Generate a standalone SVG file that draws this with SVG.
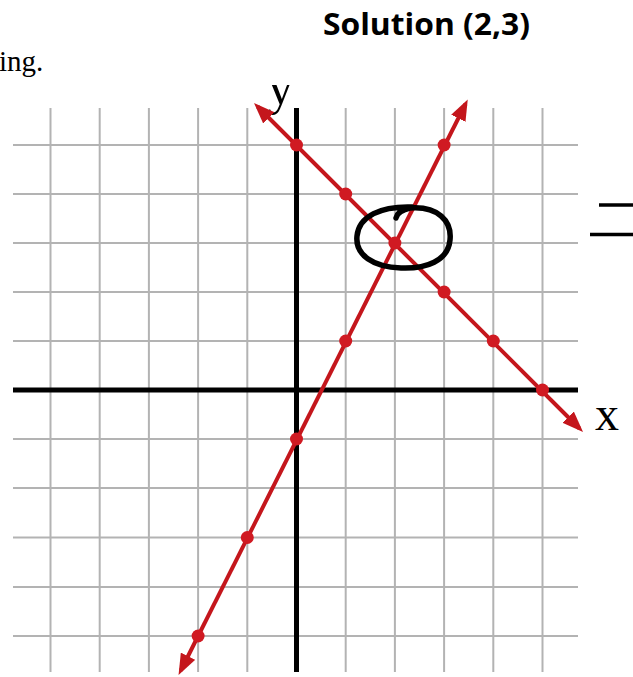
<svg xmlns="http://www.w3.org/2000/svg" width="633" height="677" viewBox="0 0 633 677">
<defs>
<style>
.grid line{stroke:#b3b3b3;stroke-width:2}
.axis{stroke:#000;stroke-width:5}
.red{stroke:#c4161c;stroke-width:4;fill:none}
.dot{fill:#d01a22}
.serif{font-family:"Liberation Serif","Times New Roman",serif;fill:#000}
</style>
<marker id="ah" viewBox="0 0 21 16" refX="16" refY="8" markerWidth="21" markerHeight="16" markerUnits="userSpaceOnUse" orient="auto-start-reverse">
<path d="M0,0 L21,8 L0,16 z" fill="#c4161c"/>
</marker>
<clipPath id="clipY"><rect x="0" y="85" width="633" height="600"/></clipPath>
</defs>
<rect width="633" height="677" fill="#fff"/>
<text id="title" x="323" y="35" font-family="'Open Sans','Liberation Sans',sans-serif" font-weight="bold" font-size="31" textLength="207" lengthAdjust="spacingAndGlyphs">Solution (2,3)</text>
<text id="ing" class="serif" x="-1" y="71" font-size="29">ing.</text>
<g id="grid" class="grid">
<line x1="50.5" y1="108" x2="50.5" y2="672"/>
<line x1="99.7" y1="108" x2="99.7" y2="672"/>
<line x1="148.9" y1="108" x2="148.9" y2="672"/>
<line x1="198.1" y1="108" x2="198.1" y2="672"/>
<line x1="247.3" y1="108" x2="247.3" y2="672"/>
<line x1="345.7" y1="108" x2="345.7" y2="672"/>
<line x1="394.9" y1="108" x2="394.9" y2="672"/>
<line x1="444.1" y1="108" x2="444.1" y2="672"/>
<line x1="493.3" y1="108" x2="493.3" y2="672"/>
<line x1="542.5" y1="108" x2="542.5" y2="672"/>
<line x1="13" y1="145" x2="578" y2="145"/>
<line x1="13" y1="194" x2="578" y2="194"/>
<line x1="13" y1="243" x2="578" y2="243"/>
<line x1="13" y1="292" x2="578" y2="292"/>
<line x1="13" y1="341" x2="578" y2="341"/>
<line x1="13" y1="439" x2="578" y2="439"/>
<line x1="13" y1="488" x2="578" y2="488"/>
<line x1="13" y1="537.5" x2="578" y2="537.5"/>
<line x1="13" y1="587" x2="578" y2="587"/>
<line x1="13" y1="636" x2="578" y2="636"/>
</g>
<g id="axes">
<line class="axis" x1="296.5" y1="108" x2="296.5" y2="672"/>
<line class="axis" x1="13" y1="390" x2="578" y2="390"/>
<text id="label-y" class="serif" x="268" y="104" font-size="50" clip-path="url(#clipY)">y</text>
<text id="label-x" class="serif" x="595" y="430" font-size="48">x</text>
</g>
<g id="connectors">
<line id="line1" class="red" x1="257.5" y1="106.5" x2="579.5" y2="428.5" marker-start="url(#ah)" marker-end="url(#ah)"/>
<line id="line2" class="red" x1="180.8" y1="670.5" x2="465.5" y2="104" marker-start="url(#ah)" marker-end="url(#ah)"/>
</g>
<g id="points" class="dot">
<circle cx="296.5" cy="145" r="6.5"/>
<circle cx="345.7" cy="194" r="6.5"/>
<circle cx="394.9" cy="243" r="6.5"/>
<circle cx="444.1" cy="292" r="6.5"/>
<circle cx="493.3" cy="341" r="6.5"/>
<circle cx="542.5" cy="390" r="6.5"/>
<circle cx="444.1" cy="145" r="6.5"/>
<circle cx="345.7" cy="341" r="6.5"/>
<circle cx="296.5" cy="439" r="6.5"/>
<circle cx="247.3" cy="537.5" r="6.5"/>
<circle cx="198.1" cy="636" r="6.5"/>
</g>
<g id="solution-loop">
<path d="M396 218 C397 213 401 210 410 208 C438 206 452 221 450 240 C448 261 426 269 401 268 C373 267 355 255 357 236 C359 216 381 206 412 207" fill="none" stroke="#000" stroke-width="5.5" stroke-linecap="round"/>
</g>
<g id="equals-fragment" stroke="#000" stroke-width="3.5">
<line x1="599" y1="205" x2="633" y2="205"/>
<line x1="590" y1="234.5" x2="633" y2="234.5"/>
</g>
</svg>
